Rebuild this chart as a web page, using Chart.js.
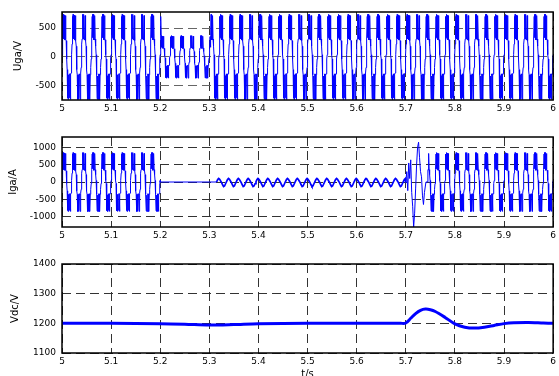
<!DOCTYPE html>
<html>
<head>
<meta charset="utf-8">
<script src="https://cdn.jsdelivr.net/npm/chart.js@4.4.1/dist/chart.umd.min.js"></script>
<style>
  html, body { margin: 0; padding: 0; background: #fff; }
  #wrap { position: relative; width: 559px; height: 376px; }
  canvas { position: absolute; left: 0; }
</style>
</head>
<body>
<div id="wrap">
  <canvas id="ugaChart" width="559" height="118" style="top:0px"></canvas>
  <canvas id="igaChart" width="559" height="125" style="top:120px"></canvas>
  <canvas id="vdcChart" width="559" height="128" style="top:248px"></canvas>
</div>
<script>
// ---- data ----
const timeTicks = [5, 5.1, 5.2, 5.3, 5.4, 5.5, 5.6, 5.7, 5.8, 5.9, 6];
const ugaTicks = [-500, 0, 500];
const igaTicks = [-1000, -500, 0, 500, 1000];
const vdcTicks = [1100, 1200, 1300, 1400];

// one 50 Hz period of the stepped PWM waveform (per unit of its peak)
const cyclePeriod = 0.02;
const pwmCycle = [
  0.05, 0.3, 0.42, 0.95, 0.45, 1, 0.5, 1, 0.42, 0.98, 0.4, 0.42, 0.4, 0.4, 0.97, 0.42, 0.4, 0.38, 0.25, 0.05,
  -0.05, -0.3, -0.42, -0.97, -0.45, -1, -0.5, -1, -0.42, -0.96, -0.4, -0.42, -0.4, -0.4, -1, -0.42, -0.4, -0.38, -0.25, -0.05
];

// [start s, end s, peak]
const ugaSegments = [[5.0, 5.202, 740], [5.202, 5.303, 370], [5.303, 6.0, 740]];
const igaPwmSegments = [[5.0, 5.2, 850], [5.745, 6.0, 850]];

// small ripple while the converter current is low (one period, A)
const igaRippleCycle = [10, 70, 100, 75, 30, -20, -80, -130, -115, -50];
const igaRippleSpan = [5.315, 5.700];

// transient when the fault clears
const igaTransT = [5.700, 5.702, 5.704, 5.706, 5.708, 5.710, 5.712, 5.714, 5.716, 5.718, 5.720,
                   5.722, 5.724, 5.726, 5.728, 5.730, 5.732, 5.734, 5.736, 5.738, 5.741, 5.745];
const igaTransV = [-20, 300, -250, 550, 100, 640, -300, -700, -1300, -900, -200,
                   500, 1000, 1150, 700, 300, 150, -400, -650, -300, 0, 0];

const vdcT = [5.0, 5.1, 5.2, 5.25, 5.3, 5.35, 5.4, 5.5, 5.6, 5.69, 5.7, 5.71, 5.72, 5.73, 5.74, 5.75,
              5.76, 5.78, 5.8, 5.82, 5.84, 5.86, 5.88, 5.9, 5.92, 5.95, 5.98, 6.0];
const vdcV = [1200, 1200, 1199, 1197, 1194, 1196, 1199, 1200, 1200, 1200, 1201, 1217, 1233, 1244, 1248, 1246,
              1240, 1220, 1198, 1187, 1184, 1187, 1193, 1199, 1202, 1203, 1201, 1200];

// ---- build point lists ----
function tilePwm(segments, cycle) {
  const pts = [];
  const dt = cyclePeriod / cycle.length;
  segments.forEach(function (seg) {
    for (let t = seg[0]; t <= seg[1] + 1e-9; t += dt) {
      const k = Math.round((t - 5) / dt) % cycle.length;
      pts.push({ x: t, y: seg[2] * cycle[k] });
    }
  });
  return pts;
}

function tileRipple(span, cycle) {
  const pts = [];
  const dt = cyclePeriod / cycle.length;
  for (let t = span[0]; t <= span[1] + 1e-9; t += dt) {
    const k = Math.round((t - span[0]) / dt) % cycle.length;
    pts.push({ x: t, y: cycle[k] });
  }
  return pts;
}

const ugaPoints = tilePwm(ugaSegments, pwmCycle);

let igaPoints = tilePwm([igaPwmSegments[0]], pwmCycle);
igaPoints.push({ x: 5.2, y: 0 }, { x: igaRippleSpan[0], y: 0 });
igaPoints = igaPoints.concat(tileRipple(igaRippleSpan, igaRippleCycle));
igaTransT.forEach((t, i) => igaPoints.push({ x: t, y: igaTransV[i] }));
igaPoints = igaPoints.concat(tilePwm([igaPwmSegments[1]], pwmCycle));

const vdcPoints = vdcT.map((t, i) => ({ x: t, y: vdcV[i] }));

// ---- shared styling ----
const FONT = 'DejaVu Sans, Arial, sans-serif';

// MATLAB-like box round the plot area
const boxPlugin = {
  id: 'box',
  afterDraw(chart) {
    const a = chart.chartArea, ctx = chart.ctx;
    ctx.save();
    ctx.setLineDash([]);
    ctx.strokeStyle = '#000';
    ctx.lineWidth = 1.5;
    ctx.strokeRect(a.left, a.top, a.right - a.left, a.bottom - a.top);
    ctx.restore();
  }
};

function makeChart(id, points, yMin, yMax, yTicks, yTitle, opts) {
  const canvas = document.getElementById(id);
  return new Chart(canvas.getContext('2d'), {
    type: 'line',
    data: {
      datasets: [{
        data: points,
        borderColor: '#0000ff',
        borderWidth: opts.lineWidth,
        pointRadius: 0,
        tension: opts.tension || 0,
        fill: false,
        segment: opts.segment || {}
      }]
    },
    options: {
      responsive: false,
      animation: false,
      devicePixelRatio: 1,
      layout: { padding: { top: opts.padTop, right: 4, left: 0, bottom: 0 } },
      plugins: { legend: { display: false }, tooltip: { enabled: false } },
      scales: {
        x: {
          type: 'linear',
          min: 5,
          max: 6,
          afterBuildTicks: s => { s.ticks = timeTicks.map(v => ({ value: v })); },
          afterFit: s => { s.height = opts.xHeight; },
          ticks: {
            autoSkip: false,
            maxRotation: 0,
            padding: 3,
            color: '#000',
            font: { family: FONT, size: 9 },
            callback: v => String(+v.toFixed(1))
          },
          grid: { color: '#333', lineWidth: 1, drawTicks: false },
          border: { display: false, dash: [9, 5] },
          title: opts.xTitle ? {
            display: true, text: opts.xTitle, color: '#000',
            font: { family: FONT, size: 10 }, padding: { top: 0, bottom: -4 }
          } : { display: false }
        },
        y: {
          min: yMin,
          max: yMax,
          afterBuildTicks: s => { s.ticks = yTicks.map(v => ({ value: v })); },
          afterFit: s => { s.width = 62; },
          ticks: {
            padding: 6,
            color: '#000',
            font: { family: FONT, size: 9 },
            callback: v => String(v)
          },
          grid: { color: opts.gridColor, lineWidth: 1, drawTicks: false },
          border: { display: false, dash: [9, 5] },
          title: {
            display: true, text: yTitle, color: '#000',
            font: { family: FONT, size: 10 }, padding: { top: opts.titlePad, bottom: 0 }
          }
        }
      }
    },
    plugins: [boxPlugin]
  });
}

makeChart('ugaChart', ugaPoints, -750, 780, ugaTicks, 'Uga/V',
  { lineWidth: 1, padTop: 12, xHeight: 18, gridColor: '#666', titlePad: 12 });
makeChart('igaChart', igaPoints, -1300, 1300, igaTicks, 'Iga/A',
  { lineWidth: 1, padTop: 17, xHeight: 18, gridColor: '#333', titlePad: 7,
    segment: { borderWidth: c => (c.p0.parsed.x > 5.31 && c.p0.parsed.x < 5.7 ? 1.7 : 1) } });
makeChart('vdcChart', vdcPoints, 1100, 1400, vdcTicks, 'Vdc/V',
  { lineWidth: 3, padTop: 16, xHeight: 23, gridColor: '#333', titlePad: 9, tension: 0.3, xTitle: 't/s' });
</script>
</body>
</html>
